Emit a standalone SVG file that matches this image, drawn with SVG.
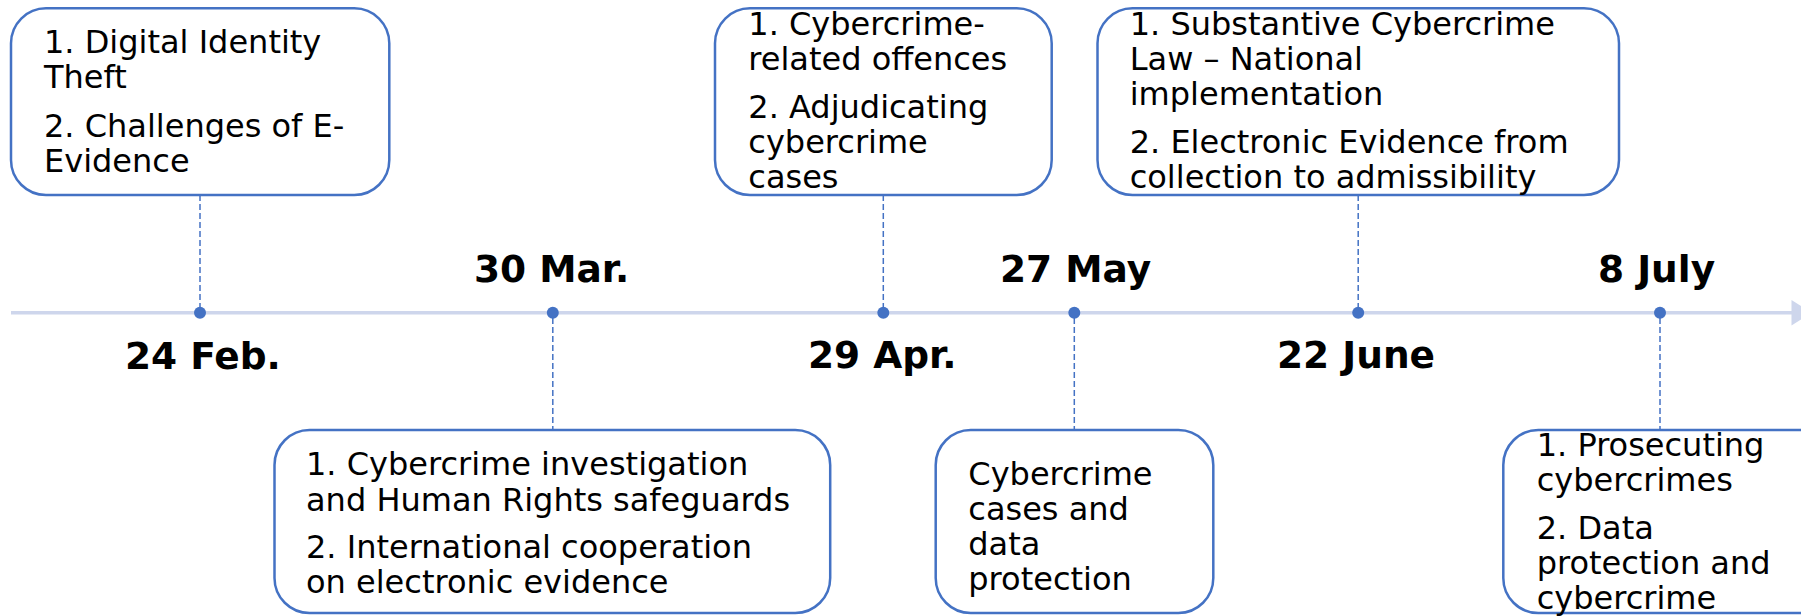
<svg xmlns="http://www.w3.org/2000/svg" width="1801" height="616" viewBox="0 0 1801 616">
<style>
.box{fill:#fff;stroke:#4472C4;stroke-width:2.5}
.t{font-family:"DejaVu Sans",Verdana,sans-serif;font-size:32px;fill:#000}
.d{font-family:"DejaVu Sans",Verdana,sans-serif;font-size:37.5px;font-weight:bold;fill:#000}
.dash{stroke:#4472C4;stroke-width:1.5;stroke-dasharray:6 3;fill:none}
.dot{fill:#4472C4}
</style>
<rect width="1801" height="616" fill="#fff"/>
<g id="timeline">
<line x1="11" y1="312.7" x2="1792" y2="312.7" stroke="#CED6EC" stroke-width="3.5"/>
<polygon points="1791.5,300 1812,312.7 1791.5,325.4" fill="#CED6EC"/>
</g>
<g id="connectors">
<line class="dash" x1="200" y1="195" x2="200" y2="307"/>
<line class="dash" x1="552.8" y1="318" x2="552.8" y2="430"/>
<line class="dash" x1="883.3" y1="195" x2="883.3" y2="307"/>
<line class="dash" x1="1074.3" y1="318" x2="1074.3" y2="430"/>
<line class="dash" x1="1358.2" y1="195" x2="1358.2" y2="307"/>
<line class="dash" x1="1660" y1="318" x2="1660" y2="430"/>
</g>
<g id="dots">
<circle class="dot" cx="200" cy="312.7" r="6"/>
<circle class="dot" cx="552.8" cy="312.7" r="6"/>
<circle class="dot" cx="883.3" cy="312.7" r="6"/>
<circle class="dot" cx="1074.3" cy="312.7" r="6"/>
<circle class="dot" cx="1358.2" cy="312.7" r="6"/>
<circle class="dot" cx="1660" cy="312.7" r="6"/>
</g>
<g id="dates">
<text class="d" x="125" y="369">24 Feb.</text>
<text class="d" x="474" y="282">30 Mar.</text>
<text class="d" x="808" y="368">29 Apr.</text>
<text class="d" x="1000" y="282">27 May</text>
<text class="d" x="1277" y="368">22 June</text>
<text class="d" x="1598" y="282">8 July</text>
</g>
<g id="node-feb">
<rect class="box" x="11" y="8.3" width="378.3" height="186.7" rx="35"/>
<text class="t" x="44" y="53">1. Digital Identity</text>
<text class="t" x="44" y="88">Theft</text>
<text class="t" x="44" y="137">2. Challenges of E-</text>
<text class="t" x="44" y="172">Evidence</text>
</g>
<g id="node-mar">
<rect class="box" x="274.5" y="430" width="555.7" height="183" rx="35"/>
<text class="t" x="306" y="475">1. Cybercrime investigation</text>
<text class="t" x="306" y="510.7">and Human Rights safeguards</text>
<text class="t" x="306" y="558.3">2. International cooperation</text>
<text class="t" x="306" y="593.3">on electronic evidence</text>
</g>
<g id="node-apr">
<rect class="box" x="715" y="8.3" width="336.7" height="186.7" rx="35"/>
<text class="t" x="748.3" y="35">1. Cybercrime-</text>
<text class="t" x="748.3" y="70">related offences</text>
<text class="t" x="748.3" y="118">2. Adjudicating</text>
<text class="t" x="748.3" y="153">cybercrime</text>
<text class="t" x="748.3" y="188">cases</text>
</g>
<g id="node-may">
<rect class="box" x="935.7" y="430" width="277.6" height="183" rx="35"/>
<text class="t" x="968.3" y="485">Cybercrime</text>
<text class="t" x="968.3" y="520">cases and</text>
<text class="t" x="968.3" y="555">data</text>
<text class="t" x="968.3" y="590">protection</text>
</g>
<g id="node-june">
<rect class="box" x="1097.5" y="8.3" width="521.5" height="186.7" rx="35"/>
<text class="t" x="1129.7" y="35">1. Substantive Cybercrime</text>
<text class="t" x="1129.7" y="70">Law – National</text>
<text class="t" x="1129.7" y="105">implementation</text>
<text class="t" x="1129.7" y="153">2. Electronic Evidence from</text>
<text class="t" x="1129.7" y="188">collection to admissibility</text>
</g>
<g id="node-july">
<rect class="box" x="1503.3" y="430" width="330" height="183" rx="35"/>
<text class="t" x="1536.7" y="456">1. Prosecuting</text>
<text class="t" x="1536.7" y="491">cybercrimes</text>
<text class="t" x="1536.7" y="539">2. Data</text>
<text class="t" x="1536.7" y="574">protection and</text>
<text class="t" x="1536.7" y="609">cybercrime</text>
</g>
</svg>
